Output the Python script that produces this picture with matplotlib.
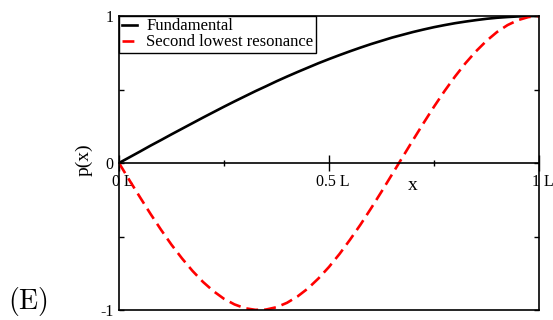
import numpy as np
import matplotlib
matplotlib.use("Agg")
import matplotlib.pyplot as plt
from matplotlib.ticker import FixedLocator
from matplotlib.transforms import ScaledTranslation

plt.rcParams['font.family'] = ['Liberation Serif', 'DejaVu Serif']
plt.rcParams['mathtext.fontset'] = 'cm'

# positions along the tube (in units of L)
x = [0.000, 0.025, 0.050, 0.075, 0.100, 0.125, 0.150, 0.175, 0.200, 0.225,
     0.250, 0.275, 0.300, 0.325, 0.350, 0.375, 0.400, 0.425, 0.450, 0.475,
     0.500, 0.525, 0.550, 0.575, 0.600, 0.625, 0.650, 0.675, 0.700, 0.725,
     0.750, 0.775, 0.800, 0.825, 0.850, 0.875, 0.900, 0.925, 0.950, 0.975, 1.000]
fundamental = [0.000, 0.039, 0.078, 0.118, 0.156, 0.195, 0.233, 0.271, 0.309, 0.346,
               0.383, 0.419, 0.454, 0.489, 0.522, 0.556, 0.588, 0.619, 0.649, 0.679,
               0.707, 0.734, 0.760, 0.785, 0.809, 0.831, 0.853, 0.872, 0.891, 0.908,
               0.924, 0.938, 0.951, 0.962, 0.972, 0.981, 0.988, 0.993, 0.997, 0.999, 1.000]
second = [0.000, -0.118, -0.233, -0.346, -0.454, -0.556, -0.649, -0.734, -0.809, -0.872,
          -0.924, -0.962, -0.988, -0.999, -0.997, -0.981, -0.951, -0.908, -0.853, -0.785,
          -0.707, -0.619, -0.522, -0.419, -0.309, -0.195, -0.078, 0.039, 0.156, 0.271,
          0.383, 0.489, 0.588, 0.679, 0.760, 0.831, 0.891, 0.938, 0.972, 0.993, 1.000]

xticks = [0, 0.5, 1]
xticklabels = ["0 L", "0.5 L", "1 L"]
yticks = [-1, 0, 1]
yticklabels = ["-1", "0", "1"]

fig = plt.figure(figsize=(5.53, 3.2), dpi=100)
ax = fig.add_axes([119/553, 1-310/320, 420/553, 294/320])

ax.plot(x, fundamental, color='black', lw=1.9, label='Fundamental')
ax.plot(x, second, color='red', lw=1.9, dashes=(4.5, 2.3), label='Second lowest resonance')

ax.set_xlim(0, 1)
ax.set_ylim(-1, 1)

# x axis sits on p = 0, frame kept at the bottom with a line
ax.spines['bottom'].set_position(('data', 0))
for s in ax.spines.values():
    s.set_linewidth(1.2)
ax.axhline(-1, color='black', lw=1.2, clip_on=False)

ax.set_xticks(xticks)
ax.set_xticklabels(xticklabels, fontsize=11.5)
ax.xaxis.set_minor_locator(FixedLocator([0.25, 0.75]))
ax.tick_params(axis='x', which='major', direction='inout', length=11.5, width=1, pad=2.5)
ax.tick_params(axis='x', which='minor', direction='inout', length=4.5, width=1)
shift = ScaledTranslation(4/100, 0, fig.dpi_scale_trans)
for lbl in ax.get_xticklabels():
    lbl.set_transform(lbl.get_transform() + shift)

ax.set_yticks(yticks)
ax.set_yticklabels(yticklabels, fontsize=11.5)
ax.yaxis.set_minor_locator(FixedLocator([-0.5, 0.5]))
ax.tick_params(axis='y', which='both', direction='in', length=3.5, width=1,
               right=True, pad=4)

ax.set_xlabel("x", fontsize=14)
ax.xaxis.set_label_coords(0.70, 0.452)
ax.set_ylabel("p(x)", fontsize=14)
ax.yaxis.set_label_coords(-0.062, 0.51)

leg = ax.legend(loc='upper left', fontsize=12, handlelength=0.9, labelspacing=0.0,
                borderpad=0.15, handletextpad=0.6, borderaxespad=0.0, fancybox=False,
                framealpha=1)
leg.get_frame().set_edgecolor('black')
leg.get_frame().set_linewidth(1.0)

fig.text(8/553, 2/320, r'$\mathrm{(E)}$', fontsize=20, va='bottom')

fig.savefig("out.png", dpi=100)
